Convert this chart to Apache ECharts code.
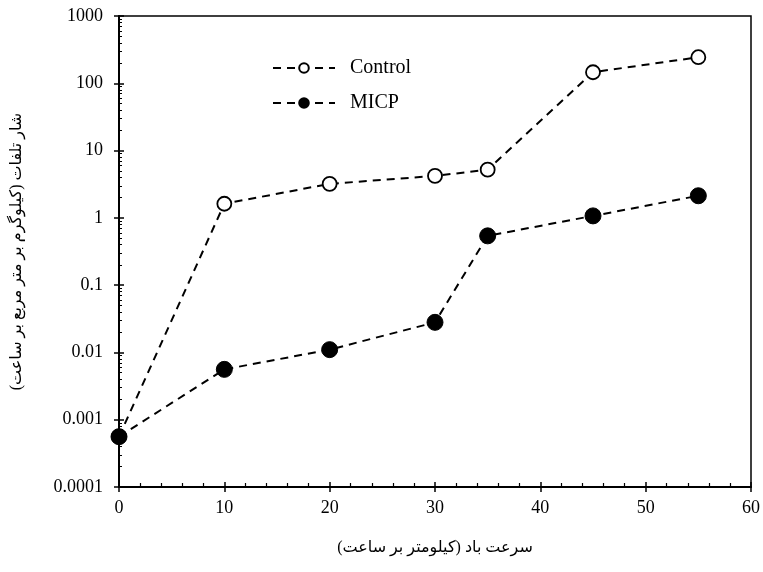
<!DOCTYPE html>
<html>
<head>
<meta charset="utf-8">
<script src="https://cdn.jsdelivr.net/npm/echarts@6/dist/echarts.min.js"></script>
<style>
  html, body { margin: 0; padding: 0; background: #fff; }
  #chart { width: 763px; height: 572px; }
</style>
</head>
<body>
<div id="chart"></div>
<script>
// سرعت باد (km/h)
var windSpeed = [0, 10, 20, 30, 35, 45, 55];
var controlLoss = [0.00056, 1.62, 3.2, 4.2, 5.2, 146, 244];
var micpLoss = [0.00056, 0.0056, 0.011, 0.028, 0.54, 1.07, 2.13];
var seriesNames = ["Control", "MICP"];

var serif = "'Liberation Serif', 'Times New Roman', 'DejaVu Sans', serif";

function pairs(xs, ys) {
  return xs.map(function (x, i) { return [x, ys[i]]; });
}

var chart = echarts.init(document.getElementById("chart"));

chart.setOption({
  animation: false,
  backgroundColor: "#fff",
  grid: {
    left: 119, right: 9, top: 16, bottom: 85,
    show: true, borderColor: "#000", borderWidth: 1.5
  },
  legend: {
    left: 267, top: 53, orient: "vertical",
    itemWidth: 62, itemHeight: 12, itemGap: 15,
    textStyle: { fontFamily: serif, fontSize: 20, lineHeight: 20, color: "#000", padding: [0, 0, 0, 10] },
    data: seriesNames
  },
  xAxis: [
    {
      type: "value", min: 0, max: 60, interval: 10,
      name: "سرعت باد (کیلومتر بر ساعت)",
      nameLocation: "middle", nameGap: 53,
      nameTextStyle: { fontFamily: serif, fontSize: 16, color: "#000" },
      axisLine: { lineStyle: { color: "#000", width: 2 } },
      axisTick: { inside: false, length: 5, lineStyle: { color: "#000", width: 1.5 } },
      axisLabel: { margin: 12, fontFamily: serif, fontSize: 18, color: "#000" },
      splitLine: { show: false }
    },
    {
      type: "value", min: 0, max: 60, interval: 10, position: "bottom",
      axisLine: { show: false },
      axisTick: { inside: true, length: 5, lineStyle: { color: "#000", width: 1.5 } },
      minorTick: { show: true, splitNumber: 5, length: 4, lineStyle: { color: "#000", width: 1.2 } },
      axisLabel: { show: false },
      splitLine: { show: false }
    }
  ],
  yAxis: [
    {
      type: "log", logBase: 10, min: 0.0001, max: 1000,
      name: "شار تلفات (کیلوگرم بر متر مربع بر ساعت)",
      nameLocation: "middle", nameGap: 94, nameRotate: 90,
      nameTextStyle: { fontFamily: serif, fontSize: 16, color: "#000" },
      axisLine: { show: true, lineStyle: { color: "#000", width: 2 } },
      axisTick: { inside: false, length: 5, lineStyle: { color: "#000", width: 1.5 } },
      axisLabel: {
        margin: 16, fontFamily: serif, fontSize: 18, color: "#000",
        formatter: function (v) { return String(+v.toPrecision(6)); }
      },
      splitLine: { show: false }
    },
    {
      type: "log", logBase: 10, min: 0.0001, max: 1000, position: "left",
      axisLine: { show: false },
      axisTick: { inside: true, length: 5, lineStyle: { color: "#000", width: 1.5 } },
      minorTick: { show: true, splitNumber: 9, length: 3, lineStyle: { color: "#000", width: 1 } },
      axisLabel: { show: false },
      splitLine: { show: false }
    }
  ],
  series: [
    {
      name: seriesNames[0], type: "line",
      data: pairs(windSpeed, controlLoss),
      symbol: "circle", symbolSize: 14,
      lineStyle: { color: "#000", width: 2, type: [8, 6] },
      itemStyle: { color: "#fff", borderColor: "#000", borderWidth: 1.8 },
      z: 3
    },
    {
      name: seriesNames[1], type: "line",
      data: pairs(windSpeed, micpLoss),
      symbol: "circle", symbolSize: 16,
      lineStyle: { color: "#000", width: 2, type: [8, 6] },
      itemStyle: { color: "#000", borderColor: "#000", borderWidth: 1 },
      z: 4
    }
  ]
});
</script>
</body>
</html>
